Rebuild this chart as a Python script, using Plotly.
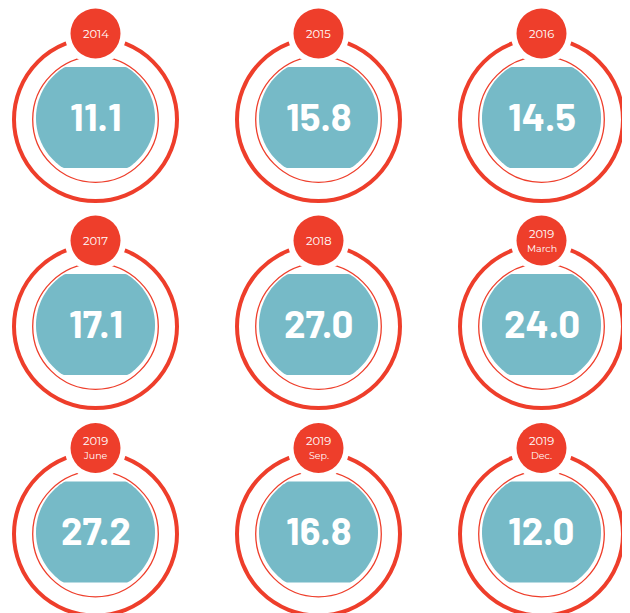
import numpy as np
import plotly.graph_objects as go

# ---- data ----
periods = ["2014", "2015", "2016", "2017", "2018", "2019", "2019", "2019", "2019"]
sub_periods = ["", "", "", "", "", "March", "June", "Sep.", "Dec."]
values = [11.1, 15.8, 14.5, 17.1, 27.0, 24.0, 27.2, 16.8, 12.0]

# ---- style / layout ----
W, H = 630, 613
OFF = 8  # page body margin
RED = "#EE3E2B"
TEAL = "#76BAC7"
col_x = [95.5, 318.5, 541.5]
row_y = [119.5, 326.5, 534.0]
R_OUT, R_THIN, R_TEAL = 81.5, 62.8, 59.5
TEAL_DY, CLIP_TOP, CLIP_BOT = -1.5, 51.0, 50.0
LABEL_DY, R_LABEL, R_GAP = 86.0, 25.0, 31.0

fig = go.Figure()
shapes = []
annotations = []


def circle(cx, cy, r, **kw):
    return dict(type="circle", xref="x", yref="y",
                x0=cx - r, x1=cx + r, y0=cy - r, y1=cy + r, **kw)


for i, (per, sub, val) in enumerate(zip(periods, sub_periods, values)):
    cx = col_x[i % 3]
    cy = row_y[i // 3]
    shapes.append(circle(cx, cy, R_OUT, line=dict(color=RED, width=4), fillcolor="rgba(0,0,0,0)"))
    shapes.append(circle(cx, cy, R_THIN, line=dict(color=RED, width=1.3), fillcolor="rgba(0,0,0,0)"))
    tc = cy + TEAL_DY
    th = np.linspace(0, 2 * np.pi, 181)
    px = cx + R_TEAL * np.cos(th)
    py = np.clip(tc + R_TEAL * np.sin(th), tc - CLIP_TOP, tc + CLIP_BOT)
    path = "M " + " L ".join(f"{a:.2f},{b:.2f}" for a, b in zip(px, py)) + " Z"
    shapes.append(dict(type="path", xref="x", yref="y", path=path,
                       fillcolor=TEAL, line=dict(width=0)))
    ly = cy - LABEL_DY
    shapes.append(circle(cx, ly, R_GAP, fillcolor="white", line=dict(width=0)))
    shapes.append(circle(cx, ly, R_LABEL, fillcolor=RED, line=dict(width=0)))
    annotations.append(dict(x=cx, y=cy - 4.5, xref="x", yref="y", text=f"{val:.1f}",
                            showarrow=False, xanchor="center", yanchor="middle",
                            font=dict(family="Barlow", size=38.5,
                                      color="white", weight=700)))
    lab_font = dict(family="Montserrat", color="white", weight=400)
    if sub:
        annotations.append(dict(x=cx, y=ly - 7, xref="x", yref="y", text=per,
                                showarrow=False, xanchor="center", yanchor="middle",
                                font=dict(size=11.5, **lab_font)))
        annotations.append(dict(x=cx, y=ly + 7.5, xref="x", yref="y", text=sub,
                                showarrow=False, xanchor="center", yanchor="middle",
                                font=dict(size=9.5, **lab_font)))
    else:
        annotations.append(dict(x=cx, y=ly, xref="x", yref="y", text=per,
                                showarrow=False, xanchor="center", yanchor="middle",
                                font=dict(size=11.5, **lab_font)))

fig.update_layout(
    width=W, height=H,
    margin=dict(l=0, r=0, t=0, b=0),
    paper_bgcolor="white", plot_bgcolor="white",
    xaxis=dict(range=[OFF, W + OFF], visible=False, fixedrange=True),
    yaxis=dict(range=[H + OFF, OFF], visible=False, fixedrange=True),
    shapes=shapes, annotations=annotations, showlegend=False,
)
fig.write_html("out.html")
